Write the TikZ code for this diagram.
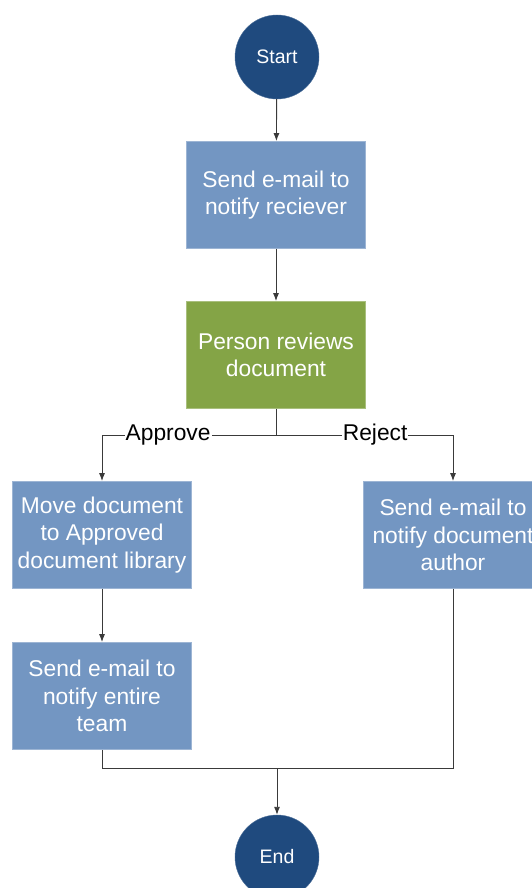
\documentclass[tikz,border=0pt]{standalone}
\usepackage{fontspec}
\setmainfont{Liberation Sans}
\usetikzlibrary{arrows.meta}

\definecolor{enddark}{HTML}{1F4A7E}
\definecolor{stepblue}{HTML}{7396C2}
\definecolor{stepgreen}{HTML}{84A446}
\definecolor{linegray}{HTML}{3A3A3A}

\begin{document}
\begin{tikzpicture}[
  x=1pt, y=-1pt,
  cnode/.style={circle,fill=enddark,draw=enddark!80!white,minimum size=84pt,inner sep=0pt,
    text=white,font=\fontsize{19.5}{23}\selectfont},
  snode/.style={rectangle,fill=stepblue,draw=stepblue!70!white,line width=0.8pt,
    minimum width=179pt,minimum height=107pt,inner sep=2pt,align=center,
    text=white,font=\fontsize{22.8}{27.3}\selectfont},
  gnode/.style={snode,fill=stepgreen,draw=stepgreen!70!white},
  lbl/.style={fill=white,inner sep=1pt,text=black,font=\fontsize{22.8}{27}\selectfont},
  arr/.style={draw=linegray,line width=0.9pt,-{Latex[length=8pt,width=6pt]}},
  ln/.style={draw=linegray,line width=0.9pt}
]
  \useasboundingbox (0,0) rectangle (532,888);

  % start and end
  \node[cnode] (start) at (277, 57) {Start};
  \node[cnode] (end) at (277, 857) {End};

  % steps
  \node[snode] (send) at (276, 195) {Send e-mail to\\notify reciever};
  \node[gnode] (review) at (276, 355) {Person reviews\\document};
  \node[snode] (move) at (102, 535) {Move document\\to Approved\\document library};
  \node[snode] (author) at (453, 535) {Send e-mail to\\notify document\\author};
  \node[snode] (team) at (102, 696) {Send e-mail to\\notify entire\\team};

  % branch and merge points
  \coordinate (split) at (276, 435);
  \coordinate (merge) at (277, 768);

  % edges
  \draw[arr] (start) -- (send);
  \draw[arr] (send) -- (review);
  \draw[ln] (review) -- (split);
  \draw[arr] (split) -| node[lbl, pos=0.31] {Approve} (move);
  \draw[arr] (split) -| node[lbl, pos=0.28] {Reject} (author);
  \draw[arr] (move) -- (team);
  \draw[ln] (team) |- (merge);
  \draw[ln] (author) |- (merge);
  \draw[arr] (merge) -- (end);
\end{tikzpicture}
\end{document}
